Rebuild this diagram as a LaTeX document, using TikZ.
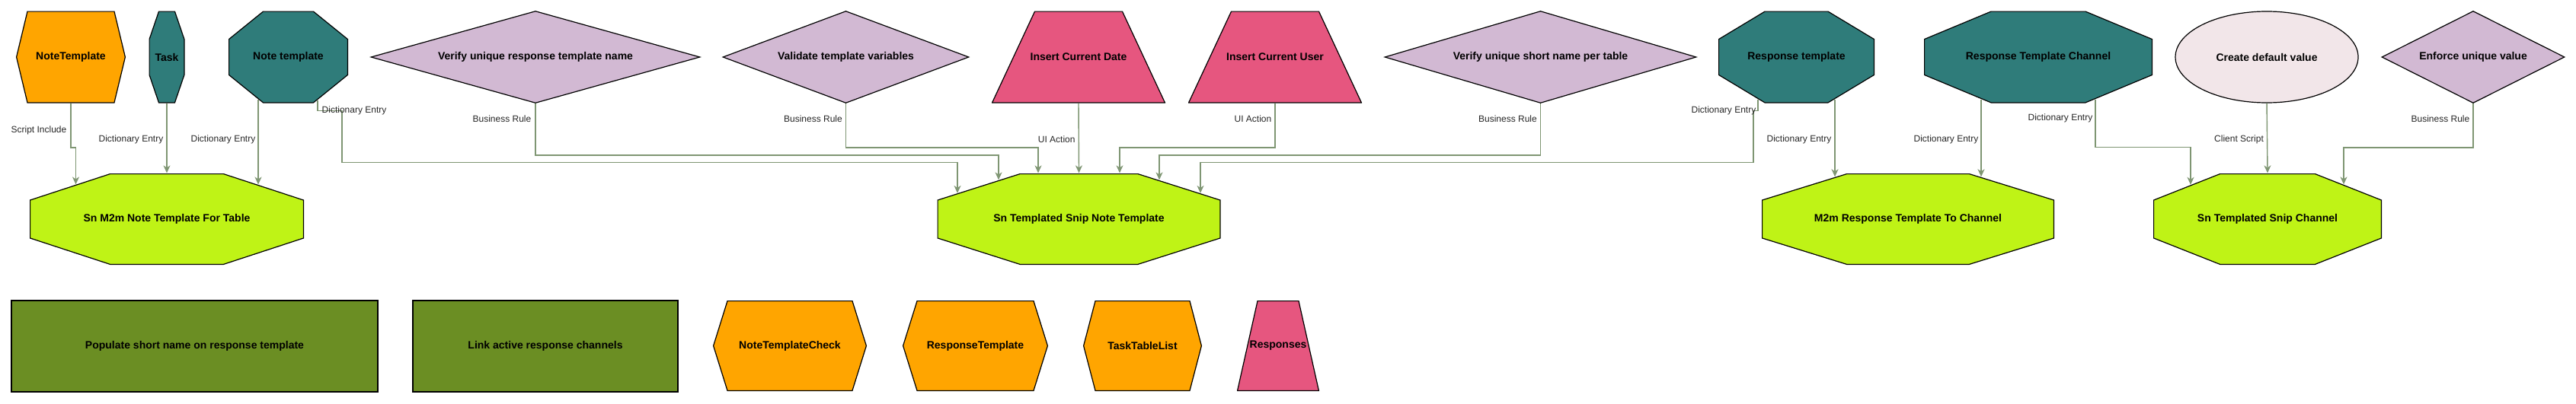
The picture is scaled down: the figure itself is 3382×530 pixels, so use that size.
\documentclass[tikz,border=0pt]{standalone}
\usepackage{fontspec}
\setmainfont{Liberation Sans}
\usepackage{tikz}
\usetikzlibrary{arrows.meta, shapes.geometric}
\definecolor{tablecol}{HTML}{BFF316}
\definecolor{dictcol}{HTML}{2F7C7A}
\definecolor{rulecol}{HTML}{D2B9D3}
\definecolor{actioncol}{HTML}{E6567F}
\definecolor{scriptcol}{HTML}{FFA500}
\definecolor{clientcol}{HTML}{F2E6E9}
\definecolor{fixcol}{HTML}{6B8E23}
\definecolor{linkcol}{HTML}{7F9673}

\begin{document}
\begin{tikzpicture}[x=1pt, y=-1pt,
  base/.style={draw=black, line width=1.2pt, inner sep=0pt,
    font=\fontsize{14}{16}\selectfont\bfseries},
  % octagon / hexagon: chamfer x, chamfer y, fill
  octa/.style n args={3}{base, draw=none, rectangle, path picture={
    \filldraw[fill=#3, draw=black, line width=1.2pt]
      ([xshift=#1, yshift=-.6pt]path picture bounding box.north west)
      -- ([xshift=-#1, yshift=-.6pt]path picture bounding box.north east)
      -- ([xshift=-.6pt, yshift=-#2]path picture bounding box.north east)
      -- ([xshift=-.6pt, yshift=#2]path picture bounding box.south east)
      -- ([xshift=-#1, yshift=.6pt]path picture bounding box.south east)
      -- ([xshift=#1, yshift=.6pt]path picture bounding box.south west)
      -- ([xshift=.6pt, yshift=#2]path picture bounding box.south west)
      -- ([xshift=.6pt, yshift=-#2]path picture bounding box.north west)
      -- cycle;}},
  % trapezium: top inset
  trap/.style={base, draw=none, rectangle, path picture={
    \filldraw[fill=actioncol, draw=black, line width=1.2pt]
      ([xshift=#1, yshift=-.6pt]path picture bounding box.north west)
      -- ([xshift=-#1, yshift=-.6pt]path picture bounding box.north east)
      -- ([xshift=-.6pt, yshift=.6pt]path picture bounding box.south east)
      -- ([xshift=.6pt, yshift=.6pt]path picture bounding box.south west)
      -- cycle;}},
  rule/.style={base, diamond, fill=rulecol, minimum height=121pt},
  link/.style={draw=linkcol, line width=1.4pt,
    -{Stealth[length=10pt, width=9pt, inset=3pt]}},
  lbl/.style={font=\fontsize{12}{14}\selectfont, inner sep=0pt, text=black!85}]
  \useasboundingbox (0,0) rectangle (3382,530);

  % Sources (top row)
  \node[octa={15pt}{60.5pt}{scriptcol}, minimum width=144pt, minimum height=121pt]
    (ntscript) at (93,75) {NoteTemplate};
  \node[octa={13pt}{37pt}{dictcol}, minimum width=47pt, minimum height=121pt]
    (task) at (219,75) {Task};
  \node[octa={45.5pt}{37pt}{dictcol}, minimum width=157pt, minimum height=121pt]
    (notetpl) at (378.5,75) {Note template};
  \node[rule, shape aspect=3.57, minimum width=432pt]
    (verresp) at (703,75) {Verify unique response template name};
  \node[rule, shape aspect=2.67, minimum width=323pt]
    (valvar) at (1110.5,75) {Validate template variables};
  \node[trap=56.5pt, minimum width=228pt, minimum height=121pt]
    (insdate) at (1416,75) {Insert Current Date};
  \node[trap=56.5pt, minimum width=228pt, minimum height=121pt]
    (insuser) at (1674,75) {Insert Current User};
  \node[rule, shape aspect=3.38, minimum width=409pt]
    (vershort) at (2022.5,75) {Verify unique short name per table};
  \node[octa={61pt}{37pt}{dictcol}, minimum width=205pt, minimum height=121pt]
    (resptpl) at (2358.5,75) {Response template};
  \node[octa={88pt}{37pt}{dictcol}, minimum width=300pt, minimum height=121pt]
    (respchan) at (2676,75) {Response Template Channel};
  \node[base, ellipse, fill=clientcol, minimum width=240pt, minimum height=120pt]
    (defval) at (2976,75) {Create default value};
  \node[rule, shape aspect=1.98, minimum width=240pt]
    (uniqval) at (3247,75) {Enforce unique value};

  % Tables
  \node[octa={105.5pt}{35pt}{tablecol}, minimum width=360pt, minimum height=120pt]
    (m2mnote) at (219,288) {Sn M2m Note Template For Table};
  \node[octa={108.5pt}{35pt}{tablecol}, minimum width=372pt, minimum height=120pt]
    (snipnote) at (1416.5,288) {Sn Templated Snip Note Template};
  \node[octa={111.5pt}{35pt}{tablecol}, minimum width=384pt, minimum height=120pt]
    (m2mchan) at (2505,288) {M2m Response Template To Channel};
  \node[octa={87.5pt}{35pt}{tablecol}, minimum width=300pt, minimum height=120pt]
    (snipchan) at (2977,288) {Sn Templated Snip Channel};

  % Unlinked items
  \node[base, fill=fixcol, minimum width=481pt, minimum height=120pt]
    (popshort) at (255.5,455) {Populate short name on response template};
  \node[base, fill=fixcol, minimum width=348pt, minimum height=120pt]
    (linkchan) at (716,455) {Link active response channels};
  \node[octa={19pt}{59.5pt}{scriptcol}, minimum width=202pt, minimum height=119pt]
    (ntcheck) at (1037,454.5) {NoteTemplateCheck};
  \node[octa={19pt}{59.5pt}{scriptcol}, minimum width=191pt, minimum height=119pt]
    (resptplsi) at (1280.5,454.5) {ResponseTemplate};
  \node[octa={16pt}{59.5pt}{scriptcol}, minimum width=156pt, minimum height=119pt]
    (tasklist) at (1500,454.5) {TaskTableList};
  \node[trap=27pt, minimum width=108pt, minimum height=119pt]
    (responses) at (1678,454.5) {Responses};

  % Links
  \draw[link] (ntscript.south) -- ++(0,58)
    node[lbl, pos=0.6, anchor=east, xshift=-5pt] {Script Include}
    -| ([xshift=-119.5pt, yshift=-15pt]m2mnote.north);
  \draw[link] (task.south) --
    node[lbl, pos=0.52, anchor=east, xshift=-4pt] {Dictionary Entry} (m2mnote.north);
  \draw[link] ([xshift=-39.5pt, yshift=5.3pt]notetpl.south) --
    node[lbl, pos=0.47, anchor=east, xshift=-3pt] {Dictionary Entry}
    ([xshift=120pt, yshift=-15.1pt]m2mnote.north);
  \draw[link] ([xshift=38.5pt, yshift=4.5pt]notetpl.south) -- ++(0,14)
    node[lbl, anchor=west, xshift=5pt] {Dictionary Entry}
    -- ++(32,0) -- ++(0,68) -| ([xshift=-159.5pt, yshift=-26.5pt]snipnote.north);
  \draw[link] (verresp.south) -- ++(0,68)
    node[lbl, pos=0.29, anchor=east, xshift=-5pt] {Business Rule}
    -| ([xshift=-105.5pt, yshift=-9pt]snipnote.north);
  \draw[link] (valvar.south) -- ++(0,58)
    node[lbl, pos=0.34, anchor=east, xshift=-4pt] {Business Rule}
    -| ([xshift=-53.5pt]snipnote.north);
  \draw[link] (insdate.south) --
    node[lbl, pos=0.52, anchor=east, xshift=-4pt] {UI Action} (snipnote.north);
  \draw[link] (insuser.south) -- ++(0,58)
    node[lbl, pos=0.34, anchor=east, xshift=-4pt] {UI Action}
    -| ([xshift=53.5pt]snipnote.north);
  \draw[link] (vershort.south) -- ++(0,68)
    node[lbl, pos=0.29, anchor=east, xshift=-4pt] {Business Rule}
    -| ([xshift=105.5pt, yshift=-9pt]snipnote.north);
  \draw[link] ([xshift=-50.5pt, yshift=5.5pt]resptpl.south) -- ++(0,15)
    node[lbl, anchor=east, xshift=-2pt] {Dictionary Entry}
    -- ++(-6,0) -- ++(0,68) -| ([xshift=159.5pt, yshift=-26.5pt]snipnote.north);
  \draw[link] ([xshift=50.5pt, yshift=5.5pt]resptpl.south) --
    node[lbl, pos=0.52, anchor=east, xshift=-4pt] {Dictionary Entry}
    ([xshift=-96pt, yshift=-4.9pt]m2mchan.north);
  \draw[link] ([xshift=-75pt, yshift=5.5pt]respchan.south) --
    node[lbl, pos=0.52, anchor=east, xshift=-3pt] {Dictionary Entry}
    ([xshift=96pt, yshift=-4.9pt]m2mchan.north);
  \draw[link] ([xshift=75pt, yshift=5.5pt]respchan.south) -- ++(0,63)
    node[lbl, pos=0.4, anchor=east, xshift=-3pt] {Dictionary Entry}
    -| ([xshift=-101pt, yshift=-15.4pt]snipchan.north);
  \draw[link] (defval.south) --
    node[lbl, pos=0.52, anchor=east, xshift=-4pt] {Client Script} (snipchan.north);
  \draw[link] (uniqval.south) -- ++(0,58)
    node[lbl, pos=0.34, anchor=east, xshift=-4pt] {Business Rule}
    -| ([xshift=100pt, yshift=-15pt]snipchan.north);
\end{tikzpicture}
\end{document}
